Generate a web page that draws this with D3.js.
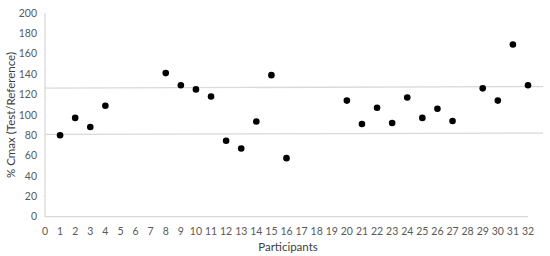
<!DOCTYPE html>
<html><head><meta charset="utf-8">
<script src="https://cdn.jsdelivr.net/npm/d3@7"></script>
<style>body{margin:0;background:#fff}svg{display:block}</style>
</head><body>
<svg id="c" width="550" height="256"></svg>
<script>
const participants = [1,2,3,4,8,9,10,11,12,13,14,15,16,20,21,22,23,24,25,26,27,29,30,31,32];
const cmaxRatio   = [80,97,88,109,141,129,125,118,74.5,67,93.5,139,57.5,114,91,107,92,117,97,106,94,126,114,169,129];
const yTicks = [0,20,40,60,80,100,120,140,160,180,200];
const xTicks = d3.range(0,33);
// reference (acceptance) lines: start/end values at x=0 and x=33
const refLineX = [0,33];
const refUpper = [126.2,127.8];
const refLower = [80.8,82.1];

const svg = d3.select('#c');
const x = d3.scaleLinear().domain([0,32]).range([45,528]);
const y = d3.scaleLinear().domain([0,200]).range([216.7,13]);
const font = "Lato, 'Open Sans', sans-serif";
const grey = '#595959';
const lineC = '#d9d9d9';

// axis lines
svg.append('line').attr('x1',x(0)).attr('x2',x(0)).attr('y1',y(200)).attr('y2',y(0)).attr('stroke',lineC).attr('stroke-width',1.3);
svg.append('line').attr('x1',x(0)).attr('x2',x(32)).attr('y1',y(0)).attr('y2',y(0)).attr('stroke',lineC).attr('stroke-width',1.3);

// reference lines
[refUpper, refLower].forEach(v => {
  svg.append('line').attr('x1',x(refLineX[0])).attr('x2',x(refLineX[1]))
    .attr('y1',y(v[0])).attr('y2',y(v[1])).attr('stroke',lineC).attr('stroke-width',1.3);
});

// y tick labels
svg.append('g').selectAll('text').data(yTicks).join('text')
  .attr('x',37).attr('y',d=>y(d)).attr('dy','0.35em').attr('text-anchor','end')
  .attr('font-family',font).attr('font-size',10.5).attr('fill',grey).text(d=>d);

// x tick labels
svg.append('g').selectAll('text').data(xTicks).join('text')
  .attr('x',d=>x(d)).attr('y',231).attr('dy','0.35em').attr('text-anchor','middle')
  .attr('font-family',font).attr('font-size',10.5).attr('fill',grey).text(d=>d);

// axis titles
svg.append('text').attr('x',288).attr('y',247).attr('dy','0.35em').attr('text-anchor','middle')
  .attr('font-family',font).attr('font-size',11.5).attr('fill','#404040').text('Participants');
svg.append('text').attr('transform','translate(11,115) rotate(-90)').attr('dy','0.35em').attr('text-anchor','middle')
  .attr('font-family',font).attr('font-size',11.5).attr('fill','#404040').text('% Cmax (Test/Reference)');

// points
svg.append('g').selectAll('circle').data(participants).join('circle')
  .attr('cx',d=>x(d)).attr('cy',(d,i)=>y(cmaxRatio[i])).attr('r',3.3).attr('fill','#000');
</script>
</body></html>
